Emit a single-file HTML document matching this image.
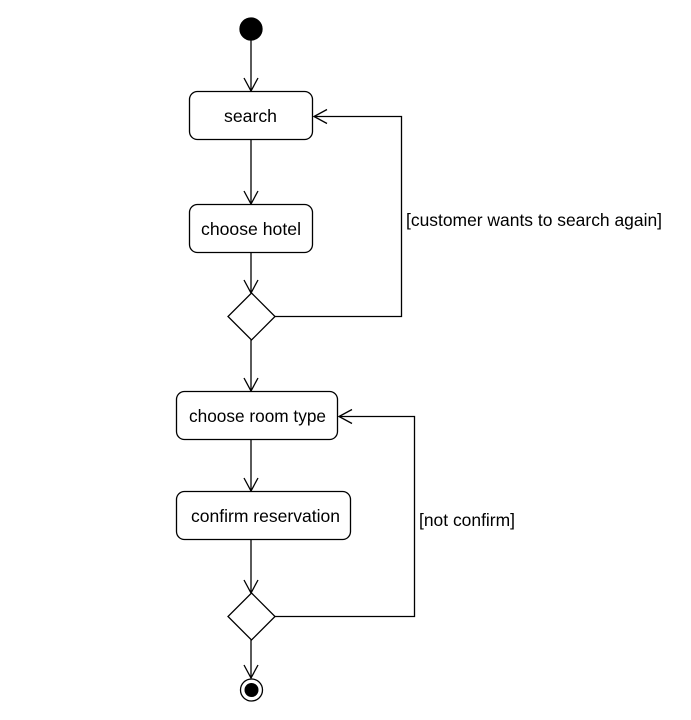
<!DOCTYPE html>
<html><head><style>body{margin:0;background:#fff}svg{display:block}</style></head><body>
<svg width="691" height="720" xmlns="http://www.w3.org/2000/svg" font-family="Liberation Sans, Arial, sans-serif" font-size="17.5">
<rect width="691" height="720" fill="#fff"/>
<g stroke="#000" stroke-width="1.3" fill="none">
<circle cx="251" cy="29" r="11" fill="#000"/>
<line x1="251" y1="40" x2="251" y2="91"/><polyline points="244,78 251,91 258,78"/>
<rect x="189.5" y="91.5" width="123" height="48" rx="8" fill="#fff"/>
<line x1="251" y1="140" x2="251" y2="204"/><polyline points="244,191 251,204 258,191"/>
<rect x="189.5" y="204.5" width="123" height="48" rx="8" fill="#fff"/>
<line x1="251" y1="253" x2="251" y2="293"/><polyline points="244,280 251,293 258,280"/>
<polygon points="251.5,293 275,316.5 251.5,340 228,316.5" fill="#fff"/>
<polyline points="275,316.5 401.5,316.5 401.5,116.5 314,116.5"/><polyline points="327,109.5 314,116.5 327,123.5"/>
<line x1="251" y1="340" x2="251" y2="391"/><polyline points="244,378 251,391 258,378"/>
<rect x="176.5" y="391.5" width="161" height="48" rx="8" fill="#fff"/>
<line x1="251" y1="440" x2="251" y2="491"/><polyline points="244,478 251,491 258,478"/>
<rect x="176.5" y="491.5" width="174" height="48" rx="8" fill="#fff"/>
<line x1="251" y1="540" x2="251" y2="593"/><polyline points="244,580 251,593 258,580"/>
<polygon points="251.5,593 275,616.5 251.5,640 228,616.5" fill="#fff"/>
<polyline points="275,616.5 414.5,616.5 414.5,416.5 339,416.5"/><polyline points="352,409.5 339,416.5 352,423.5"/>
<line x1="251" y1="640" x2="251" y2="678"/><polyline points="244,665 251,678 258,665"/>
<circle cx="251.5" cy="690" r="11" fill="#fff"/>
<circle cx="251.5" cy="690" r="7" fill="#000" stroke="none"/>
</g>
<g fill="#000">
<text x="224" y="122" textLength="53" lengthAdjust="spacingAndGlyphs">search</text>
<text x="201" y="235" textLength="100" lengthAdjust="spacingAndGlyphs">choose hotel</text>
<text x="189" y="422" textLength="137" lengthAdjust="spacingAndGlyphs">choose room type</text>
<text x="191" y="522" textLength="149" lengthAdjust="spacingAndGlyphs">confirm reservation</text>
<text x="406" y="226" textLength="256" lengthAdjust="spacingAndGlyphs">[customer wants to search again]</text>
<text x="419" y="526" textLength="96" lengthAdjust="spacingAndGlyphs">[not confirm]</text>
</g>
</svg>
</body></html>
